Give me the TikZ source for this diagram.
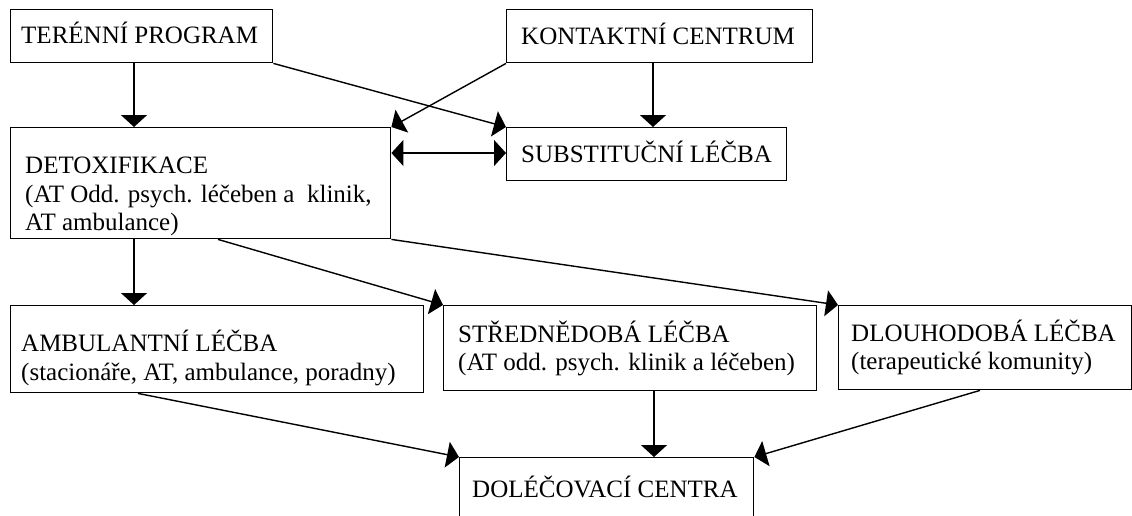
\documentclass[tikz,border=0pt]{standalone}
\usepackage{fontspec}
\setmainfont{Liberation Serif}
\usetikzlibrary{arrows.meta}

\begin{document}
\begin{tikzpicture}[x=1pt,y=-1pt,
		tri/.tip={Triangle[length=12pt,width=26pt]},
		box/.style={draw,line width=1.4pt,anchor=north west,inner sep=0pt},
		txt/.style={anchor=base west,inner sep=0pt,font=\fontsize{25}{29}\selectfont},
		arr/.style={line width=1.4pt,-tri},
		arrboth/.style={line width=1.4pt,tri-tri}]
		
		% frame of the picture (lower box runs out of it)
		\useasboundingbox (0,0) rectangle (1132,515);
		\clip (0,0) rectangle (1132,515);
		
		%--- boxes ---
		\node[box,minimum width=262pt,minimum height=53pt] (terenni) at (10,9) {};
		\node[box,minimum width=306pt,minimum height=53pt] (kontakt) at (506,9) {};
		\node[box,minimum width=380pt,minimum height=111pt] (detox) at (10,127) {};
		\node[box,minimum width=280pt,minimum height=53pt] (subst) at (506,127) {};
		\node[box,minimum width=413pt,minimum height=87pt] (ambul) at (10,305) {};
		\node[box,minimum width=373pt,minimum height=85pt] (stred) at (443,305) {};
		\node[box,minimum width=293pt,minimum height=84pt] (dlouho) at (838,305) {};
		\node[box,minimum width=294pt,minimum height=80pt] (dolec) at (459,457) {};
		
		%--- texts (one node per line, on its baseline) ---
		\node[txt] (terenni-t) at (21,43) {TERÉNNÍ PROGRAM};
		\node[txt] (kontakt-t) at (521,44) {KONTAKTNÍ CENTRUM};
		\node[txt] (detox-a) at (25,173) {DETOXIFIKACE};
		\node[txt] (detox-b) at (25,202) {(AT Odd. psych. léčeben a~~klinik,};
		\node[txt] (detox-c) at (25,230) {AT ambulance)};
		\node[txt] (subst-t) at (521,162) {SUBSTITUČNÍ LÉČBA};
		\node[txt] (ambul-a) at (21,351) {AMBULANTNÍ LÉČBA};
		\node[txt] (ambul-b) at (21,380) {(stacionáře, AT, ambulance, poradny)};
		\node[txt] (stred-a) at (458,342) {STŘEDNĚDOBÁ LÉČBA};
		\node[txt] (stred-b) at (458,370) {(AT odd. psych. klinik a léčeben)};
		\node[txt] (dlouho-a) at (851,341) {DLOUHODOBÁ LÉČBA};
		\node[txt] (dlouho-b) at (851,369) {(terapeutické komunity)};
		\node[txt] (dolec-t) at (472,497) {DOLÉČOVACÍ CENTRA};
		
		%--- connectors, top row ---
		\draw[arr] ([xshift=124pt]terenni.south west) -- ([xshift=124pt]detox.north west);
		\draw[arr] ([xshift=147pt]kontakt.south west) -- ([xshift=147pt]subst.north west);
		\draw[arr] (terenni.south east) -- (subst.north west);
		\draw[arr] (kontakt.south west) -- (detox.north east);
		\draw[arrboth] ([yshift=-26pt]detox.north east) -- ([yshift=-26pt]subst.north west);
		
		%--- connectors, detoxifikace to the treatments ---
		\draw[arr] ([xshift=124pt]detox.south west) -- ([xshift=124pt]ambul.north west);
		\draw[arr] ([xshift=208pt]detox.south west) -- (stred.north west);
		\draw[arr] (detox.south east) -- (dlouho.north west);
		
		%--- connectors, treatments to aftercare ---
		\draw[arr] ([xshift=128pt]ambul.south west) -- (dolec.north west);
		\draw[arr] ([xshift=211pt]stred.south west) -- ([xshift=195pt]dolec.north west);
		\draw[arr] ([xshift=142pt]dlouho.south west) -- (dolec.north east);
		
\end{tikzpicture}
\end{document}
